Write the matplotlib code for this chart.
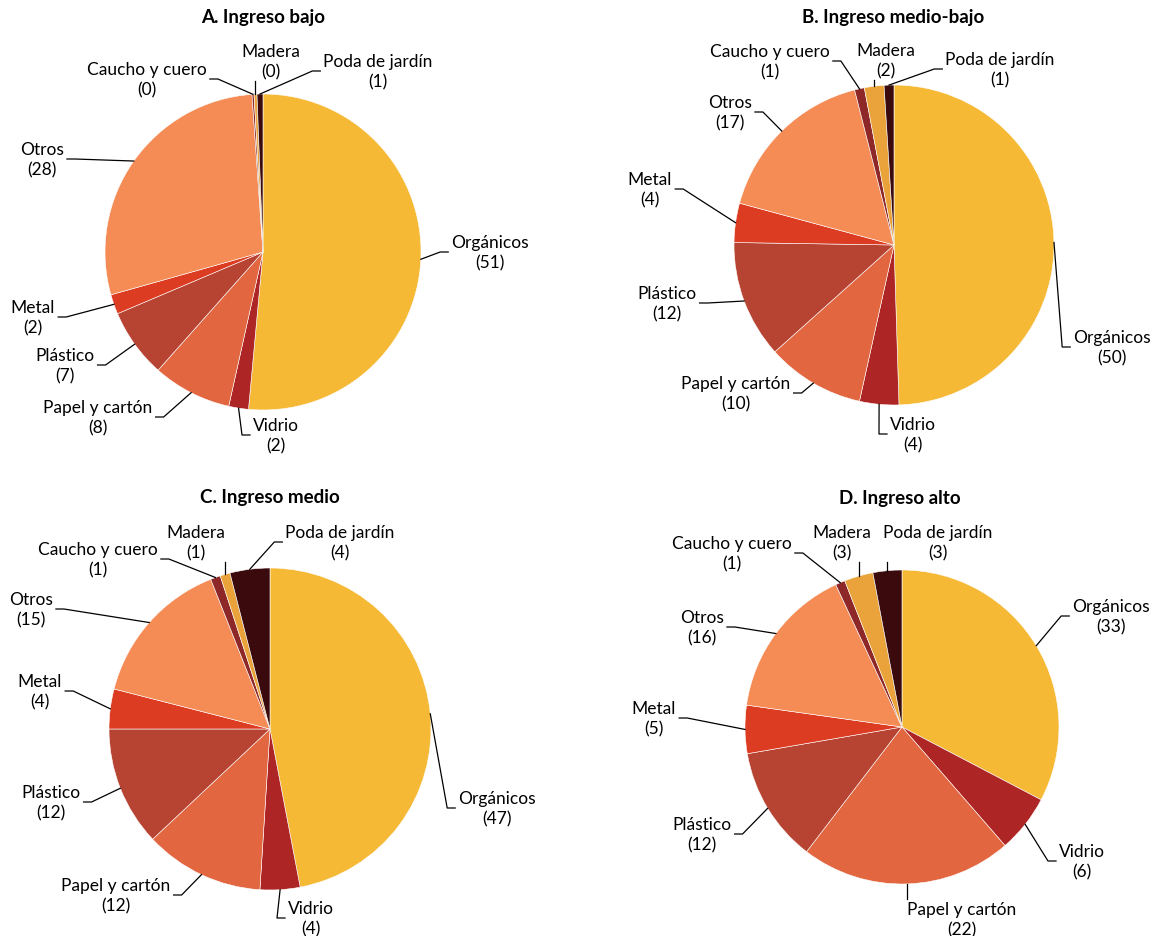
import matplotlib.pyplot as plt
import numpy as np

plt.rcParams['font.family'] = ['Lato', 'DejaVu Sans']

# categories, clockwise from 12 o'clock
categories = ['Orgánicos', 'Vidrio', 'Papel y cartón', 'Plástico', 'Metal',
              'Otros', 'Caucho y cuero', 'Madera', 'Poda de jardín']
colors = ['#F5B935', '#AD2524', '#E26640', '#B74332', '#DC3C22',
          '#F58B55', '#8E2828', '#E9A33A', '#3A0A0C']

titles = ['A. Ingreso bajo', 'B. Ingreso medio-bajo', 'C. Ingreso medio', 'D. Ingreso alto']

# share (%) per category, one list per income group
bajo = [51, 2, 8, 7, 2, 28, 0.2, 0.3, 0.6]
medio_bajo = [50, 4, 10, 12, 4, 17, 1, 2, 1]
medio = [47, 4, 12, 12, 4, 15, 1, 1, 4]
alto = [33, 6, 22, 12, 5, 16, 1, 3, 3]
series = [bajo, medio_bajo, medio, alto]

# layout (figure pixels): pie centre, radius, title position
centers = [(263, 253), (894, 246), (270, 730), (902, 728)]
radii = [158, 160, 161, 157]
title_pos = [(263, 18), (893, 18), (270, 498), (900, 499)]

# label centres (figure pixels), same order as categories
label_pos = [
    [(490, 253), (276, 436), (98, 418), (65, 366), (33, 318), (42, 160), (147, 80), (271, 62), (378, 72)],
    [(1112, 348), (913, 435), (736, 394), (667, 304), (650, 190), (730, 113), (770, 62), (886, 61), (1000, 70)],
    [(497, 809), (311, 919), (116, 896), (51, 803), (40, 692), (31, 610), (98, 560), (196, 543), (340, 543)],
    [(1111, 617), (1082, 862), (962, 920), (702, 835), (654, 719), (702, 628), (732, 554), (842, 543), (938, 543)],
]

fig = plt.figure(figsize=(11.58, 9.37), dpi=100)
ax = fig.add_axes([0, 0, 1, 1])

all_wedges = []
for vals, (cx, cy), r in zip(series, centers, radii):
    wedges, _ = ax.pie(vals, colors=colors, startangle=-90, counterclock=True,
                       center=(cx, cy), radius=r,
                       wedgeprops={'edgecolor': 'white', 'linewidth': 0.4})
    all_wedges.append(wedges)

ax.set_xlim(0, 1158)
ax.set_ylim(937, 0)
ax.set_aspect('equal')
ax.axis('off')

for t, (tx, ty) in zip(titles, title_pos):
    ax.text(tx, ty, t, ha='center', va='center', fontsize=13.5, fontweight='bold')

texts = []
for k in range(4):
    row = []
    for i, cat in enumerate(categories):
        lx, ly = label_pos[k][i]
        txt = ax.text(lx, ly, f"{cat}\n({round(series[k][i])})", ha='center', va='center',
                      fontsize=12.5, linespacing=1.3)
        row.append(txt)
    texts.append(row)

fig.canvas.draw()
renderer = fig.canvas.get_renderer()
inv = ax.transData.inverted()

# leader lines from wedge edge (mid angle) to the label box
for k in range(4):
    cx, cy = centers[k]
    r = radii[k]
    for i, w in enumerate(all_wedges[k]):
        ang = np.deg2rad((w.theta1 + w.theta2) / 2)
        px, py = cx + r * np.cos(ang), cy + r * np.sin(ang)
        bb = texts[k][i].get_window_extent(renderer)
        (x0, y1), (x1, y0) = inv.transform([[bb.x0, bb.y0], [bb.x1, bb.y1]])
        lx, ly = label_pos[k][i]
        if x0 - 2 <= px <= x1 + 2:
            # straight vertical-ish line to top or bottom of the box
            ey = y1 + 2 if py > ly else y0 - 2
            ax.plot([px, px], [py, ey], color='black', lw=0.9)
            continue
        if px > x1:
            ex, elbow = x1 + 3, x1 + 11
        else:
            ex, elbow = x0 - 3, x0 - 11
        ax.plot([px, elbow, ex], [py, ly, ly], color='black', lw=0.9)

fig.savefig('out.png', dpi=100)
